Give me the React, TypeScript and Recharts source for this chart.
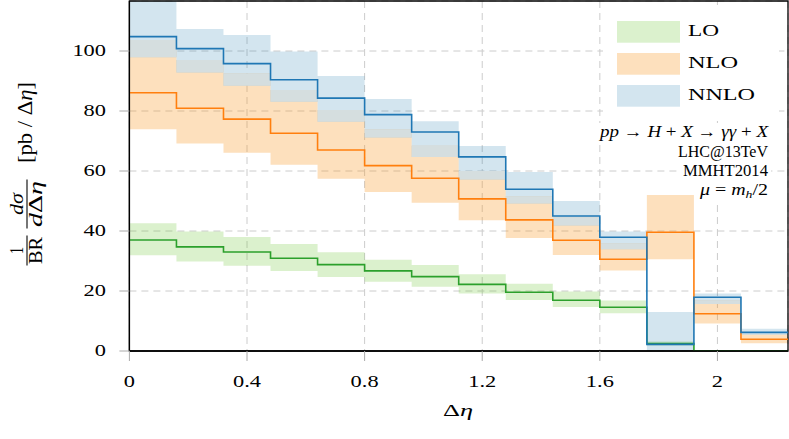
import React from 'react';
import { ComposedChart, Area, Line, XAxis, YAxis, CartesianGrid, ReferenceArea } from 'recharts';

// bin edges in Δη (14 bins)
const binEdges = [0, 0.16, 0.32, 0.48, 0.64, 0.8, 0.96, 1.12, 1.28, 1.44, 1.6, 1.76, 1.92, 2.08, 2.24];

// LO
const loCentral = [37.0, 34.7, 33.0, 30.9, 28.8, 26.7, 24.8, 22.2, 19.6, 16.9, 14.6, 2.5, 0, 0];
const loLow = [31.9, 29.8, 28.4, 26.7, 24.7, 23.1, 21.4, 19.2, 17.0, 14.7, 12.6, 1.8, 0, 0];
const loHigh = [42.6, 39.8, 38.0, 35.7, 32.9, 30.4, 28.7, 25.6, 22.4, 19.8, 16.8, 3.2, 0, 0];

// NLO
const nloCentral = [86.1, 80.9, 77.3, 72.6, 67.0, 61.8, 57.6, 50.7, 43.7, 36.9, 30.6, 39.6, 12.4, 3.9];
const nloLow = [73.9, 69.2, 66.1, 62.1, 57.4, 53.0, 49.4, 43.6, 37.7, 32.0, 26.8, 30.6, 9.2, 2.6];
const nloHigh = [103.7, 97.0, 92.6, 87.0, 80.3, 73.9, 68.4, 60.0, 51.6, 44.5, 35.9, 52.0, 16.8, 5.7];

// NNLO
const nnloCentral = [104.8, 100.8, 95.8, 90.4, 84.3, 78.8, 73.0, 64.7, 53.9, 45.0, 37.9, 2.2, 17.9, 6.2];
const nnloLow = [97.9, 92.8, 88.4, 83.1, 76.4, 71.2, 64.7, 57.2, 49.2, 41.8, 33.9, -3.0, 15.7, 5.4];
const nnloHigh = [118.0, 107.3, 105.3, 99.8, 91.7, 84.0, 76.6, 68.3, 59.7, 50.0, 39.8, 13.0, 19.2, 7.4];

const xTicks = [0, 0.4, 0.8, 1.2, 1.6, 2];
const xTickLabels = ['0', '0.4', '0.8', '1.2', '1.6', '2'];
const yTicks = [0, 20, 40, 60, 80, 100];
const yTickLabels = ['0', '20', '40', '60', '80', '100'];

const seriesNames = ['LO', 'NLO', 'NNLO'];
const processLine = 'pp → H + X → γγ + X';
const infoLines = ['LHC@13TeV', 'MMHT2014'];

const X_MAX = 2.24;
const Y_MAX = 116.67;

const data = binEdges.map((x, i) => {
  const k = Math.min(i, loCentral.length - 1);
  const oLo = Math.max(nloLow[k], nnloLow[k]);
  const oHi = Math.max(oLo, Math.min(nloHigh[k], nnloHigh[k]));
  return {
    x,
    lo: loCentral[k],
    nlo: nloCentral[k],
    nnlo: nnloCentral[k],
    loBand: [loLow[k], loHigh[k]],
    nloBand: [nloLow[k], nloHigh[k]],
    nnloBand: [nnloLow[k], nnloHigh[k]],
    overlap: [oLo, oHi],
  };
});

const FONT = "'Liberation Serif', 'DejaVu Serif', serif";
const SX = 1.4;

const XTick = (props: any) => {
  const { x, payload } = props;
  const idx = xTicks.indexOf(payload.value);
  const label = idx >= 0 ? xTickLabels[idx] : String(payload.value);
  return (
    <g transform={`translate(${x},387) scale(${SX},1)`}>
      <text x={0} y={0} textAnchor="middle" fontFamily={FONT} fontSize={16} fill="#000">{label}</text>
    </g>
  );
};

const YTick = (props: any) => {
  const { y, payload } = props;
  const idx = yTicks.indexOf(payload.value);
  const label = idx >= 0 ? yTickLabels[idx] : String(payload.value);
  return (
    <g transform={`translate(106,${y + 5.4}) scale(${SX},1)`}>
      <text x={0} y={0} textAnchor="end" fontFamily={FONT} fontSize={16} fill="#000">{label}</text>
    </g>
  );
};

const I = (p: any) => <tspan fontStyle="italic">{p.children}</tspan>;

const legendColors = ['#dbf1cd', '#fde0bd', '#d3e5ef'];
const legendTextLen = [31, 50, 67];

export default function App() {
  return (
    <div style={{ position: 'absolute', left: 0, top: 0, width: 789, height: 439, background: '#fff' }}>
      <ComposedChart width={789} height={439} data={data} margin={{ top: 1, right: 1, left: 0, bottom: 0 }}>
        <CartesianGrid strokeDasharray="7 5" stroke="#cccccc" strokeWidth={1} />
        <XAxis
          type="number"
          dataKey="x"
          domain={[0, X_MAX]}
          ticks={xTicks}
          interval={0}
          allowDataOverflow
          height={88}
          tickSize={10}
          tickLine={{ stroke: '#aaaaaa' }}
          axisLine={{ stroke: '#000', strokeWidth: 1.3 }}
          tick={<XTick />}
        />
        <YAxis
          type="number"
          domain={[0, Y_MAX]}
          ticks={yTicks}
          interval={0}
          allowDataOverflow
          width={129.4}
          tickSize={10}
          tickLine={{ stroke: '#aaaaaa' }}
          axisLine={{ stroke: '#000', strokeWidth: 1.3 }}
          tick={<YTick />}
        />
        <Area dataKey="loBand" type="stepAfter" stroke="none" fill="#6fc737" fillOpacity={0.25} isAnimationActive={false} activeDot={false} />
        <Area dataKey="nloBand" type="stepAfter" stroke="none" fill="#f89823" fillOpacity={0.3} isAnimationActive={false} activeDot={false} />
        <Area dataKey="nnloBand" type="stepAfter" stroke="none" fill="#237daf" fillOpacity={0.2} isAnimationActive={false} activeDot={false} />
        <Area dataKey="overlap" type="stepAfter" stroke="none" fill="#d5dedf" fillOpacity={1} isAnimationActive={false} activeDot={false} />
        <Line dataKey="lo" type="stepAfter" stroke="#2ca02c" strokeWidth={1.6} dot={false} isAnimationActive={false} />
        <Line dataKey="nlo" type="stepAfter" stroke="#ff7f0e" strokeWidth={1.6} dot={false} isAnimationActive={false} />
        <Line dataKey="nnlo" type="stepAfter" stroke="#1f77b4" strokeWidth={1.6} dot={false} isAnimationActive={false} />
        <ReferenceArea x1={0} x2={X_MAX} y1={0} y2={Y_MAX} fill="none" fillOpacity={0} stroke="#000" strokeWidth={1.3} />
      </ComposedChart>
      <svg width={789} height={439} style={{ position: 'absolute', left: 0, top: 0, pointerEvents: 'none' }}>
        {/* legend */}
        <rect x={603} y={5} width={176} height={112} fill="#fff" />
        {seriesNames.map((name, i) => (
          <g key={name}>
            <rect x={617} y={21 + i * 32} width={63} height={21.7} fill={legendColors[i]} />
            <text x={688} y={35.7 + i * 32.1} fontFamily={FONT} fontSize={16} fill="#000" textLength={legendTextLen[i]} lengthAdjust="spacingAndGlyphs">{name}</text>
          </g>
        ))}
        {/* annotation */}
        <rect x={597} y={123} width={174} height={19} fill="#fff" />
        <rect x={674} y={142} width={97} height={19} fill="#fff" />
        <rect x={680} y={161} width={91} height={19} fill="#fff" />
        <rect x={696} y={180} width={75} height={20} fill="#fff" />
        <text x={768} y={137} textAnchor="end" fontFamily={FONT} fontSize={16} fill="#000" textLength={168} lengthAdjust="spacingAndGlyphs">
          <I>pp</I>{' → '}<I>H</I>{' + '}<I>X</I>{' → '}<I>γγ</I>{' + '}<I>X</I>
        </text>
        <text x={768} y={156.7} textAnchor="end" fontFamily={FONT} fontSize={16} fill="#000" textLength={90} lengthAdjust="spacingAndGlyphs">{infoLines[0]}</text>
        <text x={768} y={176} textAnchor="end" fontFamily={FONT} fontSize={16} fill="#000" textLength={85} lengthAdjust="spacingAndGlyphs">{infoLines[1]}</text>
        <text x={768} y={195} textAnchor="end" fontFamily={FONT} fontSize={16} fill="#000" textLength={68} lengthAdjust="spacingAndGlyphs">
          <I>μ</I>{' = '}<I>m</I><tspan fontStyle="italic" fontSize={11} dy={3}>h</tspan><tspan dy={-3}>/2</tspan>
        </text>
        {/* x label */}
        <text x={458} y={416} textAnchor="middle" fontFamily={FONT} fontSize={17} fill="#000" textLength={30} lengthAdjust="spacingAndGlyphs">
          Δ<I>η</I>
        </text>
        {/* y label */}
        <g transform="translate(27,175.5) rotate(-90) scale(1,1.35)">
          <text x={-75} y={-3} textAnchor="middle" fontFamily={FONT} fontSize={14} fill="#000">1</text>
          <line x1={-90} x2={-60} y1={0} y2={0} stroke="#000" strokeWidth={0.8} />
          <text x={-75} y={11} textAnchor="middle" fontFamily={FONT} fontSize={14} fill="#000" textLength={27} lengthAdjust="spacingAndGlyphs">BR</text>
          <text x={-28.5} y={-3} textAnchor="middle" fontFamily={FONT} fontSize={14} fill="#000" textLength={22} lengthAdjust="spacingAndGlyphs"><I>dσ</I></text>
          <line x1={-53} x2={-4} y1={0} y2={0} stroke="#000" strokeWidth={0.8} />
          <text x={-28.5} y={11} textAnchor="middle" fontFamily={FONT} fontSize={14} fill="#000" textLength={46} lengthAdjust="spacingAndGlyphs"><I>d</I>Δ<I>η</I></text>
          <text x={53} y={4} textAnchor="middle" fontFamily={FONT} fontSize={15} fill="#000" textLength={81} lengthAdjust="spacingAndGlyphs">[pb / Δ<I>η</I>]</text>
        </g>
      </svg>
    </div>
  );
}
